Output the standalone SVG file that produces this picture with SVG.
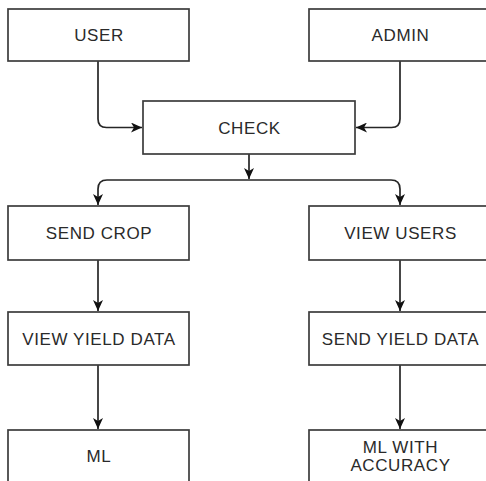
<svg xmlns="http://www.w3.org/2000/svg" width="486" height="481" viewBox="0 0 486 481">
  <style>
    .box { fill: #ffffff; stroke: #3c3c3c; stroke-width: 1.7; }
    .lbl { font-family: "Liberation Sans", Arial, sans-serif; font-size: 17px; letter-spacing: 0.6px; fill: #2a2a2a; text-anchor: middle; }
    .wire { fill: none; stroke: #262626; stroke-width: 1.7; }
  </style>
  <defs>
    <marker id="arrow" viewBox="0 0 12 10" refX="11" refY="5" markerWidth="12" markerHeight="10" markerUnits="userSpaceOnUse" orient="auto">
      <path d="M0,0 L11,5 L0,10 L3,5 Z" fill="#111111"/>
    </marker>
  </defs>
  <rect width="486" height="481" fill="#ffffff"/>

  <g id="connectors">
    <path class="wire" d="M98,61 V119 Q98,127.5 106.5,127.5 H142" marker-end="url(#arrow)"/>
    <path class="wire" d="M400,61 V119 Q400,127.5 391.5,127.5 H356" marker-end="url(#arrow)"/>
    <path class="wire" d="M249,154 V179" marker-end="url(#arrow)"/>
    <path class="wire" d="M249,180 H107 Q98,180 98,189 V205" marker-end="url(#arrow)"/>
    <path class="wire" d="M249,180 H391 Q400,180 400,189 V205" marker-end="url(#arrow)"/>
    <path class="wire" d="M98,260 V311" marker-end="url(#arrow)"/>
    <path class="wire" d="M400,260 V311" marker-end="url(#arrow)"/>
    <path class="wire" d="M98,365 V429" marker-end="url(#arrow)"/>
    <path class="wire" d="M400,365 V429" marker-end="url(#arrow)"/>
  </g>

  <g id="user">
    <rect class="box" x="8" y="9" width="181" height="52"/>
    <text class="lbl" x="99" y="41">USER</text>
  </g>
  <g id="admin">
    <rect class="box" x="309" y="9" width="182" height="52"/>
    <text class="lbl" x="400.5" y="41">ADMIN</text>
  </g>
  <g id="check">
    <rect class="box" x="143" y="101" width="212" height="53"/>
    <text class="lbl" x="249.5" y="133.5">CHECK</text>
  </g>
  <g id="send-crop">
    <rect class="box" x="8" y="206" width="181" height="54"/>
    <text class="lbl" x="99" y="239">SEND CROP</text>
  </g>
  <g id="view-users">
    <rect class="box" x="309" y="206" width="182" height="54"/>
    <text class="lbl" x="400.5" y="239">VIEW USERS</text>
  </g>
  <g id="view-yield-data">
    <rect class="box" x="8" y="312" width="181" height="53"/>
    <text class="lbl" x="99" y="345">VIEW YIELD DATA</text>
  </g>
  <g id="send-yield-data">
    <rect class="box" x="309" y="312" width="182" height="53"/>
    <text class="lbl" x="400.5" y="345">SEND YIELD DATA</text>
  </g>
  <g id="ml">
    <rect class="box" x="8" y="430" width="181" height="54"/>
    <text class="lbl" x="99" y="462">ML</text>
  </g>
  <g id="ml-with-accuracy">
    <rect class="box" x="309" y="430" width="182" height="54"/>
    <text class="lbl" x="400.5" y="453">ML WITH</text>
    <text class="lbl" x="400.5" y="471">ACCURACY</text>
  </g>
</svg>
